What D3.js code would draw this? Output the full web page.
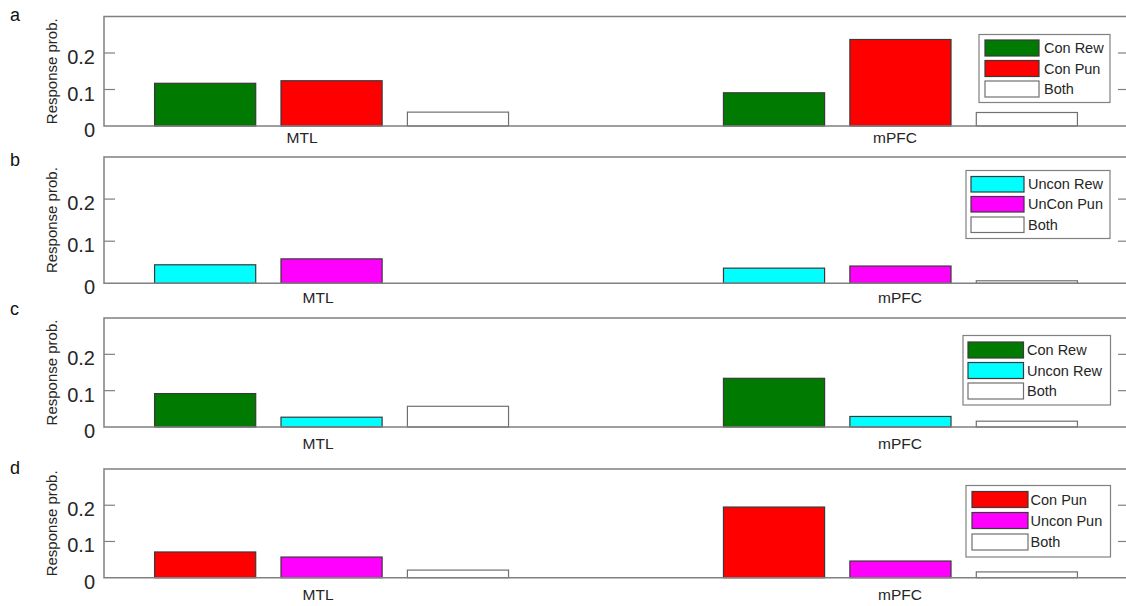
<!DOCTYPE html>
<html>
<head>
<meta charset="utf-8">
<script src="https://cdn.jsdelivr.net/npm/d3@7/dist/d3.min.js"></script>
<style>
  html, body { margin: 0; padding: 0; background: #fff; }
  svg { display: block; font-family: Arial, "Liberation Sans", sans-serif; }
</style>
</head>
<body>
<svg id="chart" width="1126" height="606"></svg>
<script>
// Brain regions on the x axis
const categories = ["MTL", "mPFC"];
const panelLetters = ["a", "b", "c", "d"];
const yTicks = [0, 0.1, 0.2];
const yTickLabels = ["0", "0.1", "0.2"];

// Series names per panel
const seriesA = ["Con Rew", "Con Pun", "Both"];
const seriesB = ["Uncon Rew", "UnCon Pun", "Both"];
const seriesC = ["Con Rew", "Uncon Rew", "Both"];
const seriesD = ["Con Pun", "Uncon Pun", "Both"];

// Response probabilities: one array per series, values for [MTL, mPFC]
const conRewA = [0.117, 0.091];
const conPunA = [0.124, 0.237];
const bothA   = [0.038, 0.037];

const unconRewB = [0.044, 0.036];
const unconPunB = [0.058, 0.041];
const bothB     = [0.000, 0.006];

const conRewC   = [0.092, 0.134];
const unconRewC = [0.027, 0.029];
const bothC     = [0.057, 0.016];

const conPunD   = [0.071, 0.195];
const unconPunD = [0.057, 0.046];
const bothD     = [0.021, 0.016];

// Fill colours per series
const GREEN = "#007a00", RED = "#ff0000", CYAN = "#00ffff", MAGENTA = "#ff00ff", WHITE = "#ffffff";

const panels = [
  { letter: panelLetters[0], names: seriesA, values: [conRewA, conPunA, bothA], colors: [GREEN, RED, WHITE],
    top: 16.5, bottom: 126, letterY: 21, labelX: [302, 895], labelY: 143,
    legend: { x: 979, y: 34.5, w: 131, h: 68, sx: 985, sw: 54, textX: 1044, rows: [40, 60.5, 81], rh: 16 } },
  { letter: panelLetters[1], names: seriesB, values: [unconRewB, unconPunB, bothB], colors: [CYAN, MAGENTA, WHITE],
    top: 157, bottom: 283.3, letterY: 166, labelX: [318, 900], labelY: 302.5,
    legend: { x: 966, y: 170.5, w: 144, h: 68, sx: 971, sw: 53, textX: 1028, rows: [176.5, 196.5, 217], rh: 15.5 } },
  { letter: panelLetters[2], names: seriesC, values: [conRewC, unconRewC, bothC], colors: [GREEN, CYAN, WHITE],
    top: 318, bottom: 427, letterY: 315, labelX: [318, 900], labelY: 449,
    legend: { x: 963, y: 335.5, w: 147.5, h: 69.5, sx: 968, sw: 55.5, textX: 1027, rows: [342, 362.5, 383], rh: 16 } },
  { letter: panelLetters[3], names: seriesD, values: [conPunD, unconPunD, bothD], colors: [RED, MAGENTA, WHITE],
    top: 469, bottom: 577.7, letterY: 474, labelX: [318, 900], labelY: 600,
    legend: { x: 966, y: 485.5, w: 144.5, h: 71.5, sx: 972, sw: 56, textX: 1030.5, rows: [491.5, 512.5, 534], rh: 16 } }
];

const svg = d3.select("#chart");
const AXIS = "#808080", TEXT = "#262626", EDGE = "#3a3a3a";

// Shared x scale: category positions 1 and 2
const x = d3.scaleLinear().domain([0.6, 2.4]).range([104, 1128]);
const nSeries = 3;
const groupWidth = Math.min(0.8, nSeries / (nSeries + 1.5));
const slot = groupWidth / nSeries;
const barWidth = slot * 0.8;

panels.forEach(p => {
  const g = svg.append("g");
  const y = d3.scaleLinear().domain([0, 0.3]).range([p.bottom, p.top]);

  // Bars
  p.values.forEach((vals, si) => {
    const offset = (si - (nSeries - 1) / 2) * slot;
    g.selectAll(null)
      .data(vals.map((v, ci) => ({ v, ci })).filter(d => d.v > 0))
      .enter().append("rect")
      .attr("x", d => x(d.ci + 1 + offset - barWidth / 2))
      .attr("width", d => x(barWidth) - x(0))
      .attr("y", d => y(d.v))
      .attr("height", d => y(0) - y(d.v))
      .attr("fill", p.colors[si])
      .attr("stroke", p.colors[si] === WHITE ? "#707070" : EDGE)
      .attr("stroke-width", 1.2);
  });

  // Left axis labels (tick marks are drawn inward below)
  const leftAxis = d3.axisLeft(y).tickValues(yTicks).tickSize(0).tickFormat((d, i) => yTickLabels[i]);
  const la = g.append("g").attr("transform", `translate(${x(0.6)},0)`).call(leftAxis);
  la.select(".domain").remove();
  la.selectAll("text").attr("x", -9).attr("y", 10.5).attr("dy", 0).attr("font-size", 20).attr("fill", TEXT)
    .attr("font-family", "Arial, 'Liberation Sans', sans-serif");

  // Inward tick marks on both vertical sides
  yTicks.filter(t => t > 0).forEach(t => {
    g.append("line").attr("x1", x(0.6)).attr("x2", x(0.6) + 11)
      .attr("y1", y(t)).attr("y2", y(t)).attr("stroke", AXIS).attr("stroke-width", 1.2);
    g.append("line").attr("x1", x(2.4) - 10).attr("x2", x(2.4))
      .attr("y1", y(t)).attr("y2", y(t)).attr("stroke", AXIS).attr("stroke-width", 1.2);
  });

  // Frame: top, left, bottom, right
  g.append("path")
    .attr("d", `M${x(2.4)},${y(0.3)}H${x(0.6)}V${y(0)}H${x(2.4)}V${y(0.3)}`)
    .attr("fill", "none").attr("stroke", AXIS).attr("stroke-width", 1.5);

  // Category labels
  categories.forEach((c, ci) => {
    g.append("text").attr("x", p.labelX[ci]).attr("y", p.labelY)
      .attr("text-anchor", "middle").attr("font-size", 15.5).attr("fill", TEXT).text(c);
  });

  // Y-axis title
  g.append("text")
    .attr("transform", `translate(57,${(p.top + p.bottom) / 2}) rotate(-90)`)
    .attr("text-anchor", "middle").attr("font-size", 15).attr("fill", TEXT)
    .text("Response prob.");

  // Panel letter
  g.append("text").attr("x", 10).attr("y", p.letterY).attr("font-size", 18).attr("fill", "#111").text(p.letter);

  // Legend
  const L = p.legend;
  const lg = g.append("g");
  lg.append("rect").attr("x", L.x).attr("y", L.y).attr("width", L.w).attr("height", L.h)
    .attr("fill", "#fff").attr("stroke", AXIS).attr("stroke-width", 1.2);
  p.names.forEach((name, si) => {
    lg.append("rect").attr("x", L.sx).attr("y", L.rows[si]).attr("width", L.sw).attr("height", L.rh)
      .attr("fill", p.colors[si]).attr("stroke", p.colors[si] === WHITE ? "#707070" : EDGE).attr("stroke-width", 1.2);
    lg.append("text").attr("x", L.textX).attr("y", L.rows[si] + L.rh / 2).attr("dy", "0.36em")
      .attr("font-size", 14.5).attr("fill", TEXT).text(name);
  });
});
</script>
</body>
</html>
